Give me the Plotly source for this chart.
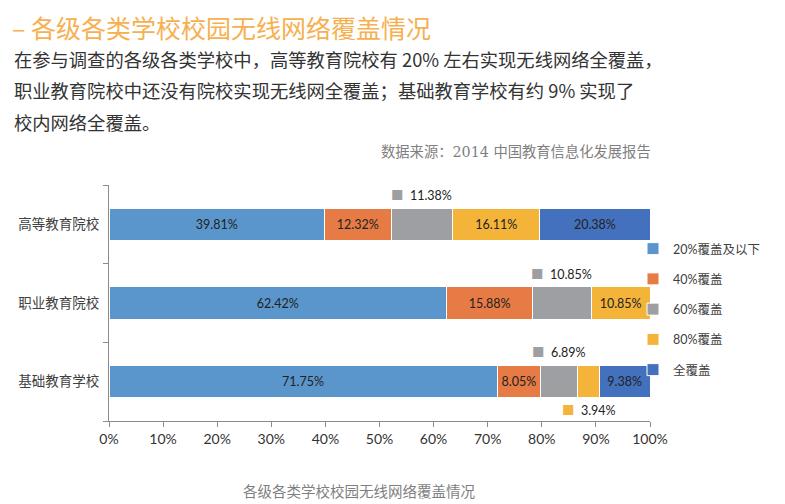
import plotly.graph_objects as go

schools = ['高等教育院校', '职业教育院校', '基础教育学校']
levels = ['20%覆盖及以下', '40%覆盖', '60%覆盖', '80%覆盖', '全覆盖']
cover_20 = [39.81, 62.42, 71.75]
cover_40 = [12.32, 15.88, 8.05]
cover_60 = [11.38, 10.85, 6.89]
cover_80 = [16.11, 10.85, 3.94]
cover_all = [20.38, 0.0, 9.38]
x_ticks = [0, 10, 20, 30, 40, 50, 60, 70, 80, 90, 100]
x_tick_text = [f'{v}%' for v in x_ticks]

colors = ['#5A96CB', '#E67B45', '#9D9FA2', '#F4B43A', '#4471BD']
series = [cover_20, cover_40, cover_60, cover_80, cover_all]

# labels that Excel put outside the bar: (series index, school index, above/below)
outside = [(2, 0, 1), (2, 1, 1), (2, 2, 1), (3, 2, -1)]
outside_keys = {(s, c) for s, c, _ in outside}

CJK = 'Noto Sans CJK SC'
NUM = 'Lato, Noto Sans CJK SC'
SERIF = 'DejaVu Serif, Noto Sans CJK SC'

# the page body has an 8px margin, so the figure sits 8px right and down
OFF = 8
PLOT_L, PLOT_R, PLOT_T, PLOT_B = 109, 650, 185, 421


def px_x(p):
    return (p - PLOT_L) / (PLOT_R - PLOT_L)


def px_y(p):
    return (PLOT_B - p) / (PLOT_B - PLOT_T)


fig = go.Figure()
for i, (name, vals) in enumerate(zip(levels, series)):
    text = []
    for j, v in enumerate(vals):
        if v == 0 or (i, j) in outside_keys:
            text.append('')
        else:
            text.append(f'{v:.2f}%')
    fig.add_trace(go.Bar(
        y=schools, x=vals, name=name, orientation='h',
        marker=dict(color=colors[i], line=dict(color='white', width=1)),
        text=text, textposition='inside', insidetextanchor='middle',
        textangle=0, textfont=dict(family=NUM, size=12.5, color='#222222'),
        hoverinfo='skip', legendgroup=name, width=0.41,
    ))

annotations = []
for s, c, side in outside:
    start = sum(series[k][c] for k in range(s))
    annotations.append(dict(
        x=start + series[s][c] / 2, y=schools[c], xref='x', yref='y',
        text=f'<span style="color:{colors[s]}">■</span>  {series[s][c]:.2f}%',
        showarrow=False, yshift=29 * side,
        font=dict(family=NUM, size=12.5, color='#222222'),
    ))

annotations += [
    dict(x=px_x(10), y=px_y(27), xref='paper', yref='paper',
         text='– 各级各类学校校园无线网络覆盖情况', showarrow=False,
         xanchor='left', yanchor='middle',
         font=dict(family=CJK, size=25, color='#F6B050')),
    dict(x=px_x(12), y=px_y(59), xref='paper', yref='paper',
         text='在参与调查的各级各类学校中，高等教育院校有 20% 左右实现无线网络全覆盖，',
         showarrow=False, xanchor='left', yanchor='middle',
         font=dict(family=CJK, size=18.3, color='#333333')),
    dict(x=px_x(12), y=px_y(90), xref='paper', yref='paper',
         text='职业教育院校中还没有院校实现无线网全覆盖；基础教育学校有约 9% 实现了',
         showarrow=False, xanchor='left', yanchor='middle',
         font=dict(family=CJK, size=18.3, color='#333333')),
    dict(x=px_x(12), y=px_y(122), xref='paper', yref='paper',
         text='校内网络全覆盖。', showarrow=False,
         xanchor='left', yanchor='middle',
         font=dict(family=CJK, size=18.3, color='#333333')),
    dict(x=px_x(653), y=px_y(152), xref='paper', yref='paper',
         text='数据来源：2014 中国教育信息化发展报告', showarrow=False,
         xanchor='right', yanchor='middle',
         font=dict(family=SERIF, size=14.3, color='#7F7F7F')),
    dict(x=px_x(359), y=px_y(492), xref='paper', yref='paper',
         text='各级各类学校校园无线网络覆盖情况', showarrow=False,
         xanchor='center', yanchor='middle',
         font=dict(family=SERIF, size=14.5, color='#7F7F7F')),
]

left = PLOT_L - OFF
top = PLOT_T - OFF
fig.update_layout(
    width=785, height=504,
    margin=dict(l=left, r=785 - left - (PLOT_R - PLOT_L),
                t=top, b=504 - top - (PLOT_B - PLOT_T), autoexpand=False),
    paper_bgcolor='white', plot_bgcolor='white',
    barmode='stack',
    uniformtext=dict(minsize=12, mode='show'),
    showlegend=True,
    legend=dict(x=px_x(633), y=px_y(234), xanchor='left', yanchor='top',
                font=dict(family=NUM, size=12.5, color='#404040'),
                tracegroupgap=11, itemwidth=30, bgcolor='rgba(0,0,0,0)'),
    annotations=annotations,
)
fig.update_xaxes(
    range=[0, 100], tickvals=x_ticks, ticktext=x_tick_text,
    showgrid=False, zeroline=False, showline=True, linecolor='#8C8C8C',
    ticks='outside', ticklen=5, tickcolor='#8C8C8C', automargin=False,
    tickfont=dict(family=NUM, size=14, color='#333333'),
)
fig.update_yaxes(
    categoryorder='array', categoryarray=schools[::-1],
    showgrid=False, zeroline=False, showline=True, linecolor='#8C8C8C',
    ticks='outside', ticklen=5, tickcolor='#8C8C8C', tickson='boundaries',
    ticklabelstandoff=6, automargin=False,
    tickfont=dict(family=CJK, size=13.5, color='#404040'),
)

fig.write_html('out.html')
